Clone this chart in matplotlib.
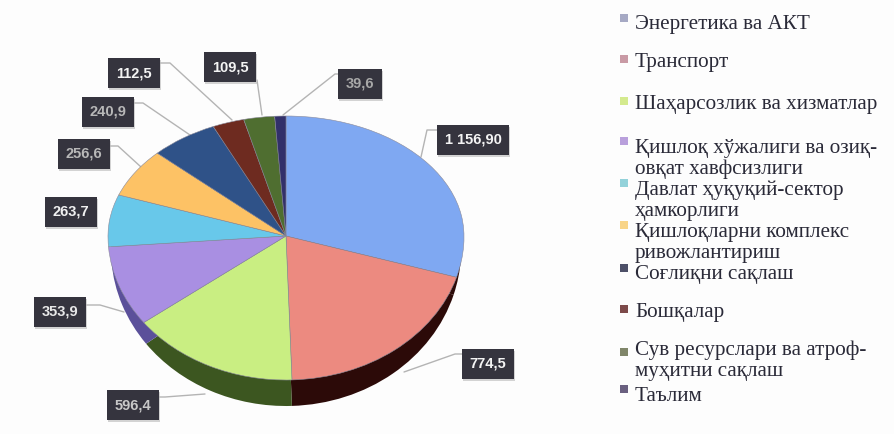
import numpy as np
import matplotlib
matplotlib.use("Agg")
import matplotlib.pyplot as plt
from matplotlib.patches import Rectangle
from matplotlib.transforms import Transform

categories = ["Энергетика ва АКТ", "Транспорт", "Шаҳарсозлик ва хизматлар",
              "Қишлоқ хўжалиги ва озиқ-\nовқат хавфсизлиги",
              "Давлат ҳуқуқий-сектор\nҳамкорлиги",
              "Қишлоқларни комплекс\nривожлантириш",
              "Соғлиқни сақлаш", "Бошқалар",
              "Сув ресурслари ва атроф-\nмуҳитни сақлаш", "Таълим"]
values = [1156.9, 774.5, 596.4, 353.9, 263.7, 256.6, 240.9, 112.5, 109.5, 39.6]
value_labels = ["1 156,90", "774,5", "596,4", "353,9", "263,7",
                "256,6", "240,9", "112,5", "109,5", "39,6"]
colors = ["#7fa8f2", "#ec8a80", "#c9ee82", "#a98fe2", "#68c8ea",
          "#fdc265", "#2f5288", "#6e2b20", "#4f6e30", "#32306a"]
side_colors = ["#2c0a08", "#2c0a08", "#3c5620", "#5b509a", "#3a7a90",
               "#9a7030", "#1c3050", "#401510", "#2f4218", "#1c1a40"]
legend_colors = ["#a6a9c4", "#c99aa5", "#d4ea8e", "#b9a0dc", "#93d2da",
                 "#f8d488", "#4d5068", "#7d4a4a", "#80866a", "#6a6080"]
# layout, pixels: label box centres, leader paths, legend rows
label_pos = [(473, 140), (488, 364), (133, 405), (60, 312), (71, 212),
             (84, 154), (108, 112), (134, 73), (230, 67), (360, 84)]
leaders = [[(421, 157), (427, 130), (440, 130)],
           [(404, 372), (455, 354), (470, 354)],
           [(205, 394), (165, 397), (150, 397)],
           [(124, 312), (100, 305), (80, 305)],
           None,
           [(141, 167), (118, 146), (100, 146)],
           [(190, 135), (143, 103), (125, 103)],
           [(232, 120), (170, 63), (150, 63)],
           [(262, 115), (257, 80)],
           [(283, 115), (335, 74), (345, 74)]]
label_text_colors = ["#f4f4f4", "#f4f4f4", "#c8c8c8", "#e8e8e8", "#f0f0f0",
                     "#b8b8b8", "#b8b8b8", "#f4f4f4", "#f4f4f4", "#a8a8a8"]
legend_text_y = [22, 60, 102, 146, 188, 230, 272, 310, 348, 394]
legend_mark_y = [18, 59, 101, 141, 183, 225, 268, 309, 352, 389]


class Warp(Transform):
    """Perspective tilt: unit pie to image pixels."""
    input_dims = output_dims = 2

    def __init__(self, cx, cy, rx, ry_top, ry_bottom):
        super().__init__()
        self.p = (cx, cy, rx, ry_top, ry_bottom)

    def transform_non_affine(self, v):
        v = np.asarray(v, float)
        cx, cy, rx, rt, rb = self.p
        y = v[:, 1]
        return np.column_stack([cx + rx * v[:, 0],
                                cy - np.where(y > 0, rt, rb) * y])


fig = plt.figure(figsize=(8.95, 4.34), dpi=100, facecolor="#fdfdfd")
ax = fig.add_axes([0, 0, 1, 1])
ax.set_facecolor("#fdfdfd")

top = Warp(286, 236, 178, 120, 144)
low = Warp(286, 250, 175, 120, 156)

w_low, _ = ax.pie(values, colors=side_colors, startangle=90, counterclock=False)
for w in w_low:
    w.set_transform(low + ax.transData)
    w.set_zorder(1)
w_top, _ = ax.pie(values, colors=colors, startangle=90, counterclock=False)
for w in w_top:
    w.set_transform(top + ax.transData)
    w.set_zorder(2)
    w.set_edgecolor("#8a8a9a")
    w.set_linewidth(0.4)

ax.set_aspect("auto")
ax.set_xlim(0, 895)
ax.set_ylim(434, 0)
ax.axis("off")

for path in leaders:
    if path is None:
        continue
    xs, ys = zip(*path)
    ax.plot(xs, ys, color="#b4b4b4", lw=1.0, zorder=0.5, solid_capstyle="round")

renderer = fig.canvas.get_renderer()
for t, pos, col in zip(value_labels, label_pos, label_text_colors):
    txt = ax.text(pos[0], pos[1], t, ha="center", va="center", fontsize=10.5,
                  fontweight="bold", family="Liberation Sans", color=col, zorder=5,
                  bbox=dict(boxstyle="square,pad=0.55", fc="#35343e", ec="none"))
    fig.draw_without_rendering()
    e = txt.get_bbox_patch().get_window_extent(renderer)
    x0, y1 = ax.transData.inverted().transform((e.x0, e.y0))
    x1, y0 = ax.transData.inverted().transform((e.x1, e.y1))
    ax.add_patch(Rectangle((x0 + 1, y0 + 2), x1 - x0, y1 - y0, fc="#b8b8b8",
                           ec="none", alpha=0.6, zorder=4))

for name, ty, my, mc in zip(categories, legend_text_y, legend_mark_y, legend_colors):
    ax.scatter([624], [my], marker="s", s=30, color=mc, zorder=3, linewidths=0)
    ax.text(635, ty - 7, name, ha="left", va="top", fontsize=15.2,
            family="Liberation Serif", color="#2a2a38", linespacing=1.12, zorder=3)

fig.savefig("out.png", dpi=100, facecolor=fig.get_facecolor())
